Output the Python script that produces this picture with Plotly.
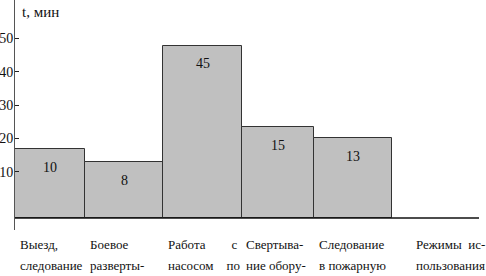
import plotly.graph_objects as go

# ---- data ----
categories = ["Выезд, следование", "Боевое развертывание", "Работа с насосом",
              "Свертывание оборудования", "Следование в пожарную часть",
              "Режимы использования"]
durations = [10, 8, 45, 15, 13]                 # labels printed in the bars, min
bar_tops = [16.8, 12.9, 47.8, 23.3, 20.0]        # drawn bar heights on the t axis
bar_base = -3.9                                  # drawn baseline on the t axis
tick_vals = [10, 20, 30, 40, 50]
NB = "\u00a0"
label_line1 = ["Выезд,", "Боевое", "Работа" + NB * 8 + "с",
               "Свертыва-", "Следование", "Режимы" + NB * 2 + "ис-"]
label_line2 = ["следование", "разверты-", "насосом" + NB * 4 + "по",
               "ние обору-", "в пожарную", "пользования"]

# ---- style ----
FONT = "Liberation Serif, Times New Roman, serif"
bar_widths = [0.906, 1.009, 1.022, 0.931, 1.009]
bar_offsets = [-0.5, -0.594, -0.585, -0.563, -0.632]
label_shift_px = [3, 3, 3, 2, 3, 12]

xs = list(range(len(durations)))
fig = go.Figure()
fig.add_trace(go.Bar(
    x=xs,
    y=[t - bar_base for t in bar_tops],
    base=bar_base,
    width=bar_widths,
    offset=bar_offsets,
    marker=dict(color="#c0c0c0", line=dict(color="#333333", width=1)),
    hoverinfo="skip",
))

# values inside bars
for i, (d, t) in enumerate(zip(durations, bar_tops)):
    cx = i + bar_offsets[i] + bar_widths[i] / 2
    fig.add_annotation(x=cx, y=t, xref="x", yref="y", text=str(d), showarrow=False,
                       yshift=-18, yanchor="middle", xanchor="center",
                       font=dict(family=FONT, size=14, color="#111"))

# category labels under the axis
for i in range(len(categories)):
    left = (i + bar_offsets[i]) if i < len(bar_offsets) else (i - 0.5)
    for line, ys in ((label_line1[i], -14), (label_line2[i], -35)):
        fig.add_annotation(x=left, y=0, xref="x", yref="paper", text=line,
                           showarrow=False, xanchor="left", yanchor="middle",
                           xshift=label_shift_px[i], yshift=ys,
                           font=dict(family=FONT, size=13, color="#111"))

# axis title
fig.add_annotation(x=0, y=1, xref="paper", yref="paper", text="t, мин",
                   showarrow=False, xanchor="left", yanchor="middle",
                   xshift=5, yshift=-12, font=dict(family=FONT, size=15, color="#111"))

# baseline
fig.add_shape(type="line", xref="paper", yref="y", x0=0, x1=1, y0=bar_base, y1=bar_base,
              line=dict(color="#111", width=1.5))

fig.update_layout(
    width=486, height=276,
    font=dict(family=FONT),
    margin=dict(l=15, r=7, t=0, b=46, autoexpand=False),
    paper_bgcolor="white", plot_bgcolor="white",
    showlegend=False, bargap=0,
    xaxis=dict(range=[-0.5, 5.5], showgrid=False, zeroline=False, automargin=False,
               showticklabels=False, ticks="", showline=False),
    yaxis=dict(range=[-7.5, 61.5], showgrid=False, zeroline=False, automargin=False,
               tickvals=tick_vals, ticks="inside", ticklen=4, tickcolor="#222",
               ticklabelstandoff=-2,
               showline=True, linecolor="#555", linewidth=1,
               tickfont=dict(family=FONT, size=14, color="#111")),
)

fig.write_html("out.html", config={"displayModeBar": False},
               post_script="document.body.style.margin='0';document.body.style.overflow='hidden';")
